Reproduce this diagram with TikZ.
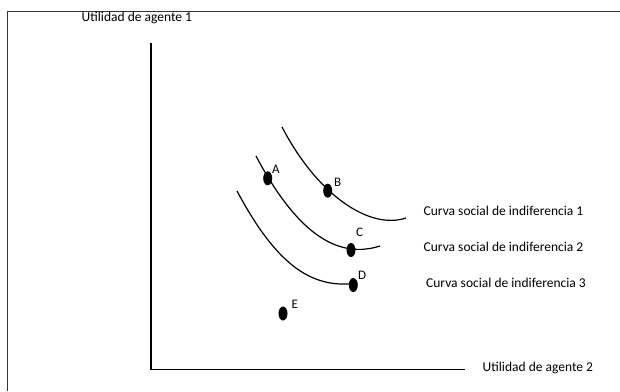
\documentclass[tikz,border=0pt]{standalone}
\usepackage{fontspec}
\setmainfont{Carlito}
\usetikzlibrary{shapes.geometric}
\begin{document}
\begin{tikzpicture}[x=1pt,y=-1pt,
  lbl/.style={anchor=base west,inner sep=0pt,font=\fontsize{13.5}{16}\selectfont},
  ptlbl/.style={anchor=base west,inner sep=0pt,font=\fontsize{13}{15}\selectfont},
  dot/.style={ellipse,fill=black,draw=none,inner sep=0pt,minimum width=9pt,minimum height=14pt},
  axis/.style={line width=1.3pt,black},
  curve/.style={line width=1.2pt,black}]
\useasboundingbox (0,0) rectangle (620,391);
% frame
\draw[line width=1.5pt,black!80] (7.5,391) -- (7.5,11.5) -- (620,11.5);
% axes
\coordinate (ytop) at (151,43);
\coordinate (orig) at (151,369.5);
\coordinate (xend) at (465,369.5);
\draw[axis] (ytop) -- (orig) -- (xend);
\node[lbl] (ylab) at (81.5,21.5) {Utilidad de agente 1};
\node[lbl] (xlab) at (482.5,371.5) {Utilidad de agente 2};
% curves
\draw[curve] (282,127) .. controls (318,196) and (370,230) .. (406,218);
\draw[curve] (256,156) .. controls (290,220) and (330,262) .. (380,246);
\draw[curve] (237,191) .. controls (275,262) and (310,290) .. (357,283);
% points
\node[dot] (A) at (267.7,178.3) {};
\node[dot] (B) at (327.7,190.7) {};
\node[dot] (C) at (351,250) {};
\node[dot] (D) at (353.3,285) {};
\node[dot] (E) at (283,313.5) {};
\node[ptlbl] (lA) at (272,173.3) {A};
\node[ptlbl] (lB) at (334,186.7) {B};
\node[ptlbl] (lC) at (356,236.7) {C};
\node[ptlbl] (lD) at (358,279.3) {D};
\node[ptlbl] (lE) at (291.5,308.3) {E};
% curve labels
\node[lbl] (c1) at (423.5,215.7) {Curva social de indiferencia 1};
\node[lbl] (c2) at (423.5,251) {Curva social de indiferencia 2};
\node[lbl] (c3) at (426,287) {Curva social de indiferencia 3};
\end{tikzpicture}
\end{document}
